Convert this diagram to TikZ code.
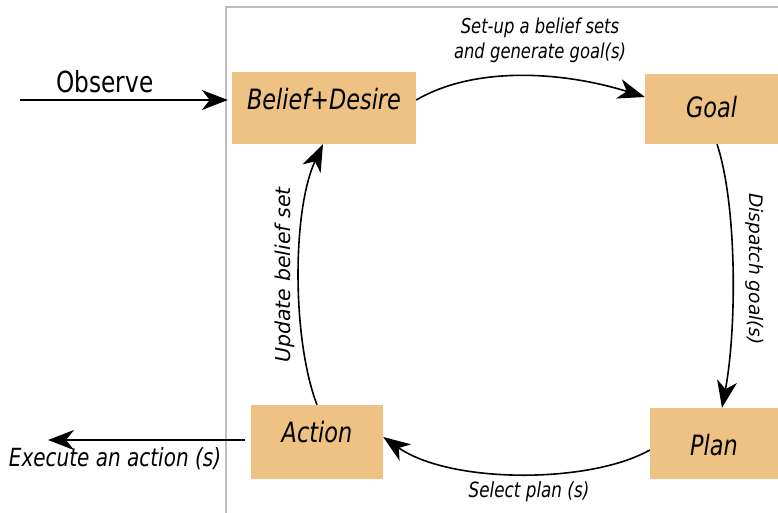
\documentclass[tikz,border=0pt]{standalone}
\usepackage{fontspec}
\setmainfont{DejaVu Sans}[FakeStretch=0.8]
\newfontfamily\rotfont{DejaVu Sans}
\usetikzlibrary{arrows.meta}
\definecolor{boxfill}{RGB}{237,194,131}
\definecolor{framegray}{RGB}{190,190,190}
\begin{document}
\begin{tikzpicture}[x=1pt,y=-1pt,
  box/.style={fill=boxfill, draw=none, inner sep=0pt, text depth=0pt,
    font=\fontsize{28}{30}\selectfont\itshape},
  lbl/.style={inner sep=0pt, font=\fontsize{20.5}{25}\selectfont\itshape, align=center},
  rotlbl/.style={inner sep=0pt, font=\rotfont\fontsize{18.6}{22}\selectfont\itshape},
  outer/.style={inner sep=0pt, font=\fontsize{29}{30}\selectfont},
  tip/.style={-{Stealth[length=27pt,width=20pt,inset=8pt]}},
  flow/.style={tip, line width=1.6pt},
  straight/.style={-{Stealth[length=26pt,width=20pt,inset=8pt]}, line width=2pt}
]
\useasboundingbox (0,0) rectangle (778,513);
% frame
\draw[framegray, line width=1.5pt] (226,513) -- (226,7) -- (778,7);
% boxes
\node[box, minimum width=184pt, minimum height=72pt, text height=4pt] (bd) at (324,108) {Belief+Desire};
\node[box, minimum width=133pt, minimum height=70pt, text height=18pt] (goal) at (711.5,109) {Goal};
\node[box, minimum width=132pt, minimum height=74pt, text height=0pt] (action) at (317,442) {Action};
\node[box, minimum width=128pt, minimum height=71pt, text height=23pt] (plan) at (714,443.5) {Plan};
% outer arrows
\coordinate (obs) at (20,100);
\draw[straight, shorten >=4pt] (obs) -- ([yshift=8pt]bd.west);
\node[outer] (obslbl) at (105,82) {Observe};
\coordinate (exe) at (48,440);
\draw[straight, shorten <=6pt] ([yshift=2pt]action.west) -- (exe);
\node[outer, font=\fontsize{25}{28}\selectfont\itshape] (exelbl) at (115,459) {Execute an action (s)};
% cycle
\draw[flow] ([yshift=8pt]bd.east) .. controls +(60,-35) and +(-80,-25) .. ([yshift=12pt]goal.west);
\node[lbl] (l1) at (540,40) {Set-up a belief sets\\and generate goal(s)};
\draw[flow] ([xshift=5.5pt]goal.south) .. controls +(20,60) and +(15,-80) .. ([xshift=8pt]plan.north);
\node[rotlbl, rotate=-90] (l2) at (755,269) {Dispatch goal(s)};
\draw[flow] ([yshift=-6.5pt]plan.west) .. controls +(-60,34) and +(67,47) .. ([yshift=5pt]action.east);
\node[lbl, font=\fontsize{21}{25}\selectfont\itshape] (l3) at (529,492) {Select plan (s)};
\draw[flow] (action.north) .. controls +(-25,-65) and +(-31,66) .. ([xshift=-1pt]bd.south);
\node[rotlbl, font=\rotfont\fontsize{20.5}{22}\selectfont\itshape, rotate=90] (l4) at (285,275) {Update belief set};
\end{tikzpicture}
\end{document}
